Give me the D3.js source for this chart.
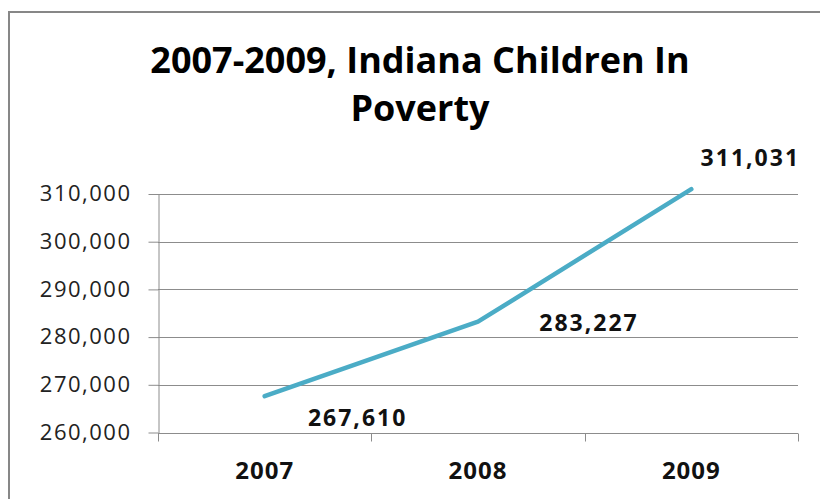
<!DOCTYPE html>
<html>
<head>
<meta charset="utf-8">
<script src="https://cdn.jsdelivr.net/npm/d3@7"></script>
<style>
  html, body { margin: 0; padding: 0; background: #fff; }
  svg { display: block; }
</style>
</head>
<body>
<svg id="chart" width="820" height="499"></svg>
<script>
// Children in poverty, Indiana
const years = ["2007", "2008", "2009"];
const children = [267610, 283227, 311031];
const yTicks = [260000, 270000, 280000, 290000, 300000, 310000];
const titleLines = ["2007-2009, Indiana Children In", "Poverty"];

const svg = d3.select("#chart");
const W = 820, H = 499;
const margin = { left: 158, right: 22, top: 194, bottom: 66.5 };
const fontFam = "'Open Sans', sans-serif";

// outer frame (extends past the right and bottom edges)
svg.append("rect")
  .attr("x", 9).attr("y", 12)
  .attr("width", 840).attr("height", 520)
  .attr("fill", "#fff")
  .attr("stroke", "#878787")
  .attr("stroke-width", 2);

const x = d3.scaleBand().domain(years).range([margin.left, W - margin.right]);
const y = d3.scaleLinear().domain([260000, 310000]).range([H - margin.bottom, margin.top]);

// horizontal gridlines
svg.append("g").selectAll("line").data(yTicks.slice(1)).join("line")
  .attr("x1", margin.left).attr("x2", W - margin.right)
  .attr("y1", d => Math.round(y(d)) + 0.5).attr("y2", d => Math.round(y(d)) + 0.5)
  .attr("stroke", "#8c8c8c").attr("stroke-width", 1);

// y axis
const yAxis = svg.append("g")
  .attr("transform", `translate(${margin.left + 0.5},0)`)
  .call(d3.axisLeft(y).tickValues(yTicks).tickFormat(d3.format(",")).tickSize(10).tickSizeOuter(0));
yAxis.select(".domain").attr("stroke", "#8c8c8c");
yAxis.selectAll(".tick line").attr("stroke", "#8c8c8c");
yAxis.selectAll(".tick text")
  .attr("x", -27)
  .attr("dy", "0.3em")
  .attr("fill", "#222")
  .style("font-family", fontFam)
  .style("font-size", "22px")
  .style("letter-spacing", "1.5px");

// x axis with ticks on band boundaries
const xAxisG = svg.append("g")
  .attr("transform", `translate(0,${Math.round(y(260000)) + 0.5})`);
xAxisG.append("line")
  .attr("x1", margin.left).attr("x2", W - margin.right)
  .attr("stroke", "#8c8c8c");
const bounds = years.map(d => x(d)).concat([W - margin.right]);
xAxisG.selectAll("line.tk").data(bounds).join("line")
  .attr("class", "tk")
  .attr("x1", d => Math.round(d) + 0.5).attr("x2", d => Math.round(d) + 0.5)
  .attr("y1", 0).attr("y2", 8)
  .attr("stroke", "#8c8c8c");
xAxisG.selectAll("text").data(years).join("text")
  .attr("x", d => x(d) + x.bandwidth() / 2)
  .attr("y", 45)
  .attr("text-anchor", "middle")
  .attr("fill", "#111")
  .style("font-family", fontFam)
  .style("font-weight", "bold")
  .style("font-size", "24px")
  .style("letter-spacing", "1px")
  .text(d => d);

// data line
const pts = years.map((d, i) => [x(d) + x.bandwidth() / 2, y(children[i])]);
svg.append("path")
  .attr("d", d3.line()(pts))
  .attr("fill", "none")
  .attr("stroke", "#4bacc6")
  .attr("stroke-width", 4.5)
  .attr("stroke-linecap", "round")
  .attr("stroke-linejoin", "round");

// value labels
const labelOffsets = [[93, 30], [111, 9], [59, -23]];
svg.append("g").selectAll("text").data(children).join("text")
  .attr("x", (d, i) => pts[i][0] + labelOffsets[i][0])
  .attr("y", (d, i) => pts[i][1] + labelOffsets[i][1])
  .attr("text-anchor", "middle")
  .attr("fill", "#111")
  .style("font-family", fontFam)
  .style("font-weight", "bold")
  .style("font-size", "23px")
  .style("letter-spacing", "2px")
  .text(d => d3.format(",")(d));

// title
svg.append("g").selectAll("text").data(titleLines).join("text")
  .attr("x", 420)
  .attr("y", (d, i) => 73 + i * 48)
  .attr("text-anchor", "middle")
  .attr("fill", "#000")
  .style("font-family", fontFam)
  .style("font-weight", "bold")
  .style("font-size", "36px")
  .text(d => d);
</script>
</body>
</html>
